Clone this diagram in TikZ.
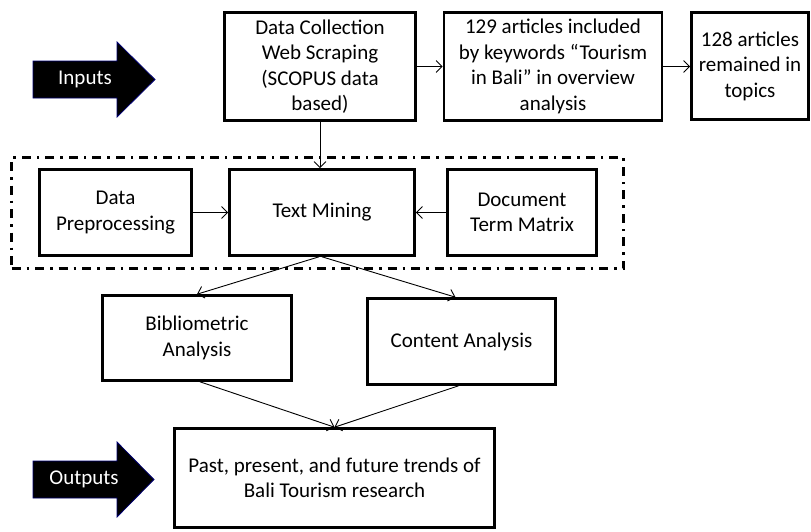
\documentclass[tikz,border=0pt]{standalone}
\usepackage{fontspec}
\setmainfont{Carlito}
\usetikzlibrary{arrows.meta}
\begin{document}
\begin{tikzpicture}[x=1pt,y=-1pt,
  box/.style={draw, line width=2.6pt, inner sep=0pt, align=center,
    font=\fontsize{21}{25.5}\selectfont},
  conn/.style={line width=0.9pt, -{Straight Barb[length=6pt,width=12pt]}},
  groupbox/.style={draw, line width=2.6pt, inner sep=0pt,
    dash pattern=on 9pt off 6pt on 2.5pt off 6pt},
  bigarrow/.style={fill=black, draw=blue!45!black, line width=0.8pt},
  arrowtext/.style={text=white, inner sep=0pt, font=\fontsize{21}{25}\selectfont}]
\useasboundingbox (0,0) rectangle (811,531);

% group frame
\node[groupbox, minimum width=612pt, minimum height=111pt] (grp) at (317.5,213) {};

% boxes
\node[box, minimum width=191pt, minimum height=108pt] (dc) at (320,66.5)
  {Data Collection\\Web Scraping\\(SCOPUS data\\based)};
\node[box, minimum width=218pt, minimum height=108pt] (a129) at (553,66.5)
  {129 articles included\\by keywords “Tourism\\in Bali” in overview\\analysis};
\node[box, minimum width=117pt, minimum height=107pt] (a128) at (750,66)
  {128 articles\\remained in\\topics};
\node[box, minimum width=152pt, minimum height=86pt] (dp) at (115.5,212.5)
  {Data\\Preprocessing};
\node[box, minimum width=185pt, minimum height=86pt] (tm) at (322,212.5)
  {Text Mining};
\node[box, minimum width=149pt, minimum height=86pt] (dtm) at (522,212.5)
  {Document\\Term Matrix};
\node[box, minimum width=189pt, minimum height=85pt] (ba) at (197,338)
  {Bibliometric\\Analysis};
\node[box, minimum width=188pt, minimum height=86pt] (ca) at (461.5,341.5)
  {Content Analysis};
\node[box, minimum width=320pt, minimum height=99pt] (out) at (334.5,478)
  {Past, present, and future trends of\\Bali Tourism research};

% big arrows
\draw[bigarrow] (33,61) -- (117,61) -- (117,42) -- (155,79.5) -- (117,117)
  -- (117,98) -- (33,98) -- cycle;
\node[arrowtext] (inp) at (85,79.5) {Inputs};
\draw[bigarrow] (33,461) -- (117,461) -- (117,442) -- (154,479.5) -- (117,517)
  -- (117,498) -- (33,498) -- cycle;
\node[arrowtext] (outp) at (84,479.5) {Outputs};

% connectors
\draw[conn] (dc.south) -- (dc.south |- tm.north);
\draw[conn] (dc.east) -- (a129.west);
\draw[conn] (a129.east) -- (a128.west |- a129.east);
\draw[conn] (dp.east) -- (tm.west);
\draw[conn] (dtm.west) -- (tm.east);
\draw[conn] ([xshift=-3pt]tm.south) -- (ba.north);
\draw[conn] (tm.south) -- ([xshift=-6pt]ca.north);
\draw[conn] ([xshift=3pt]ba.south) -- (out.north);
\draw[conn] ([xshift=-3pt]ca.south) -- (out.north);
\end{tikzpicture}
\end{document}
